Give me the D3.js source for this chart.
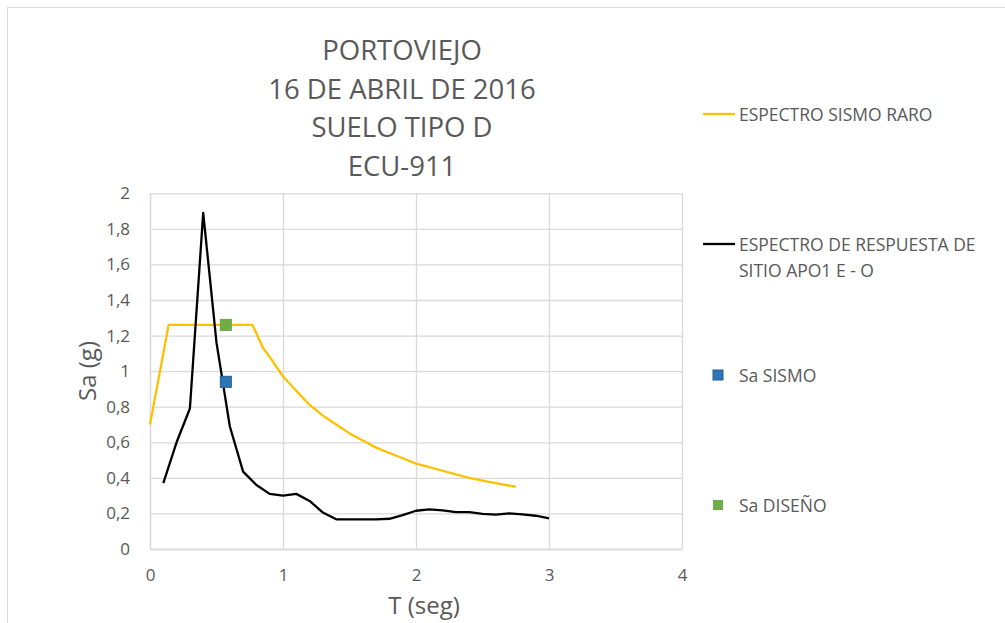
<!DOCTYPE html>
<html>
<head>
<meta charset="utf-8">
<script src="https://cdn.jsdelivr.net/npm/d3@7"></script>
<style>
  body { margin: 0; background: #fff; }
  text { font-family: "Open Sans", sans-serif; fill: #595959; }
</style>
</head>
<body>
<div id="graphic"></div>
<script>
// chart data
var titleLines = ["PORTOVIEJO", "16 DE ABRIL DE 2016", "SUELO TIPO D", "ECU-911"];

var raroT  = [0, 0.14, 0.77, 0.85, 0.9, 1.0, 1.1, 1.2, 1.3, 1.4, 1.5, 1.6, 1.7, 1.8, 1.9, 2.0, 2.1, 2.2, 2.3, 2.4, 2.5, 2.6, 2.75];
var raroSa = [0.70, 1.26, 1.26, 1.13, 1.08, 0.97, 0.89, 0.81, 0.75, 0.70, 0.65, 0.61, 0.57, 0.54, 0.51, 0.48, 0.46, 0.44, 0.42, 0.40, 0.385, 0.37, 0.35];

var sitioT  = [0.1, 0.2, 0.3, 0.4, 0.5, 0.6, 0.7, 0.8, 0.9, 1.0, 1.1, 1.2, 1.3, 1.4, 1.5, 1.6, 1.7, 1.8, 1.9, 2.0, 2.1, 2.2, 2.3, 2.4, 2.5, 2.6, 2.7, 2.8, 2.9, 3.0];
var sitioSa = [0.37, 0.60, 0.79, 1.89, 1.16, 0.69, 0.435, 0.36, 0.31, 0.30, 0.31, 0.27, 0.205, 0.167, 0.167, 0.167, 0.167, 0.17, 0.19, 0.215, 0.223, 0.217, 0.207, 0.207, 0.197, 0.193, 0.20, 0.195, 0.187, 0.172];

var sismoPoint  = [0.57, 0.94];
var disenoPoint = [0.57, 1.26];

var xTicks = [0, 1, 2, 3, 4];
var yTicks = [0, 0.2, 0.4, 0.6, 0.8, 1, 1.2, 1.4, 1.6, 1.8, 2];

var width = 1005, height = 623;
var plot = {left: 150, right: 682, top: 193.3, bottom: 549};

var svg = d3.select("#graphic").append("svg")
	.attr("width", width)
	.attr("height", height);

// outer chart frame
svg.append("rect")
	.attr("x", 7.5).attr("y", 7.5)
	.attr("width", width + 20).attr("height", height + 20)
	.attr("fill", "#fff")
	.attr("stroke", "#d9d9d9");

var x = d3.scaleLinear().domain([0, 4]).range([plot.left, plot.right]);
var y = d3.scaleLinear().domain([0, 2]).range([plot.bottom, plot.top]);

var fmt = function(d) { return d3.format("~g")(d).replace(".", ","); };

// gridlines
svg.append("g")
	.attr("transform", "translate(" + plot.left + ",0)")
	.call(d3.axisLeft(y).tickValues(yTicks).tickSize(-(plot.right - plot.left)).tickFormat(""))
	.call(function(g) {
		g.select(".domain").remove();
		g.selectAll("line").attr("stroke", "#d9d9d9").attr("stroke-width", 1.3);
	});

svg.append("g")
	.attr("transform", "translate(0," + plot.bottom + ")")
	.call(d3.axisBottom(x).tickValues(xTicks).tickSize(-(plot.bottom - plot.top)).tickFormat(""))
	.call(function(g) {
		g.select(".domain").remove();
		g.selectAll("line").attr("stroke", "#d9d9d9").attr("stroke-width", 1.3);
	});

// tick labels
svg.append("g")
	.attr("transform", "translate(" + plot.left + ",0)")
	.call(d3.axisLeft(y).tickValues(yTicks).tickSize(0).tickPadding(20).tickFormat(fmt))
	.call(function(g) {
		g.select(".domain").attr("stroke", "#d9d9d9").attr("stroke-width", 1.3);
		g.selectAll("text").attr("font-size", 17).attr("fill", "#595959")
			.style("font-family", "'Open Sans', sans-serif");
	});

svg.append("g")
	.attr("transform", "translate(0," + plot.bottom + ")")
	.call(d3.axisBottom(x).tickValues(xTicks).tickSize(0).tickPadding(20).tickFormat(fmt))
	.call(function(g) {
		g.select(".domain").attr("stroke", "#d9d9d9").attr("stroke-width", 1.3);
		g.selectAll("text").attr("font-size", 17).attr("fill", "#595959")
			.style("font-family", "'Open Sans', sans-serif");
	});

// axis titles
svg.append("text")
	.attr("x", 424).attr("y", 614)
	.attr("text-anchor", "middle")
	.attr("font-size", 24)
	.text("T (seg)");

svg.append("text")
	.attr("transform", "translate(96,371) rotate(-90)")
	.attr("text-anchor", "middle")
	.attr("font-size", 24)
	.text("Sa (g)");

// title
svg.append("g").selectAll("text")
	.data(titleLines)
	.enter().append("text")
	.attr("x", 402)
	.attr("y", function(d, i) { return 60 + i * 38.7; })
	.attr("text-anchor", "middle")
	.attr("font-size", 27.5)
	.text(function(d) { return d; });

// lines
var line = d3.line()
	.x(function(d) { return x(d[0]); })
	.y(function(d) { return y(d[1]); });

svg.append("path")
	.datum(d3.zip(raroT, raroSa))
	.attr("fill", "none")
	.attr("stroke", "#ffc000")
	.attr("stroke-width", 2.3)
	.attr("stroke-linejoin", "round")
	.attr("d", line);

svg.append("path")
	.datum(d3.zip(sitioT, sitioSa))
	.attr("fill", "none")
	.attr("stroke", "#000")
	.attr("stroke-width", 2.3)
	.attr("stroke-linejoin", "round")
	.attr("d", line);

// points
var sq = 11;
svg.append("rect")
	.attr("x", x(sismoPoint[0]) - sq / 2).attr("y", y(sismoPoint[1]) - sq / 2)
	.attr("width", sq).attr("height", sq)
	.attr("fill", "#2e75b6").attr("stroke", "#245f94").attr("stroke-width", 1);

svg.append("rect")
	.attr("x", x(disenoPoint[0]) - sq / 2).attr("y", y(disenoPoint[1]) - sq / 2)
	.attr("width", sq).attr("height", sq)
	.attr("fill", "#70ad47").attr("stroke", "#6aa543").attr("stroke-width", 1);

// legend
var legend = svg.append("g").attr("font-size", 17.5);

legend.append("line").attr("x1", 703).attr("x2", 735).attr("y1", 114).attr("y2", 114)
	.attr("stroke", "#ffc000").attr("stroke-width", 2.3);
legend.append("text").attr("x", 739).attr("y", 120.5).text("ESPECTRO SISMO RARO");

legend.append("line").attr("x1", 703).attr("x2", 735).attr("y1", 244).attr("y2", 244)
	.attr("stroke", "#000").attr("stroke-width", 2.3);
legend.append("text").attr("x", 739).attr("y", 250.5).text("ESPECTRO DE RESPUESTA DE");
legend.append("text").attr("x", 739).attr("y", 277).text("SITIO APO1 E - O");

legend.append("rect").attr("x", 713).attr("y", 370).attr("width", 10).attr("height", 10)
	.attr("fill", "#2e75b6").attr("stroke", "#245f94").attr("stroke-width", 1);
legend.append("text").attr("x", 739).attr("y", 381.5).text("Sa SISMO");

legend.append("rect").attr("x", 713).attr("y", 500).attr("width", 10).attr("height", 10)
	.attr("fill", "#70ad47");
legend.append("text").attr("x", 739).attr("y", 511.5).text("Sa DISEÑO");
</script>
</body>
</html>
